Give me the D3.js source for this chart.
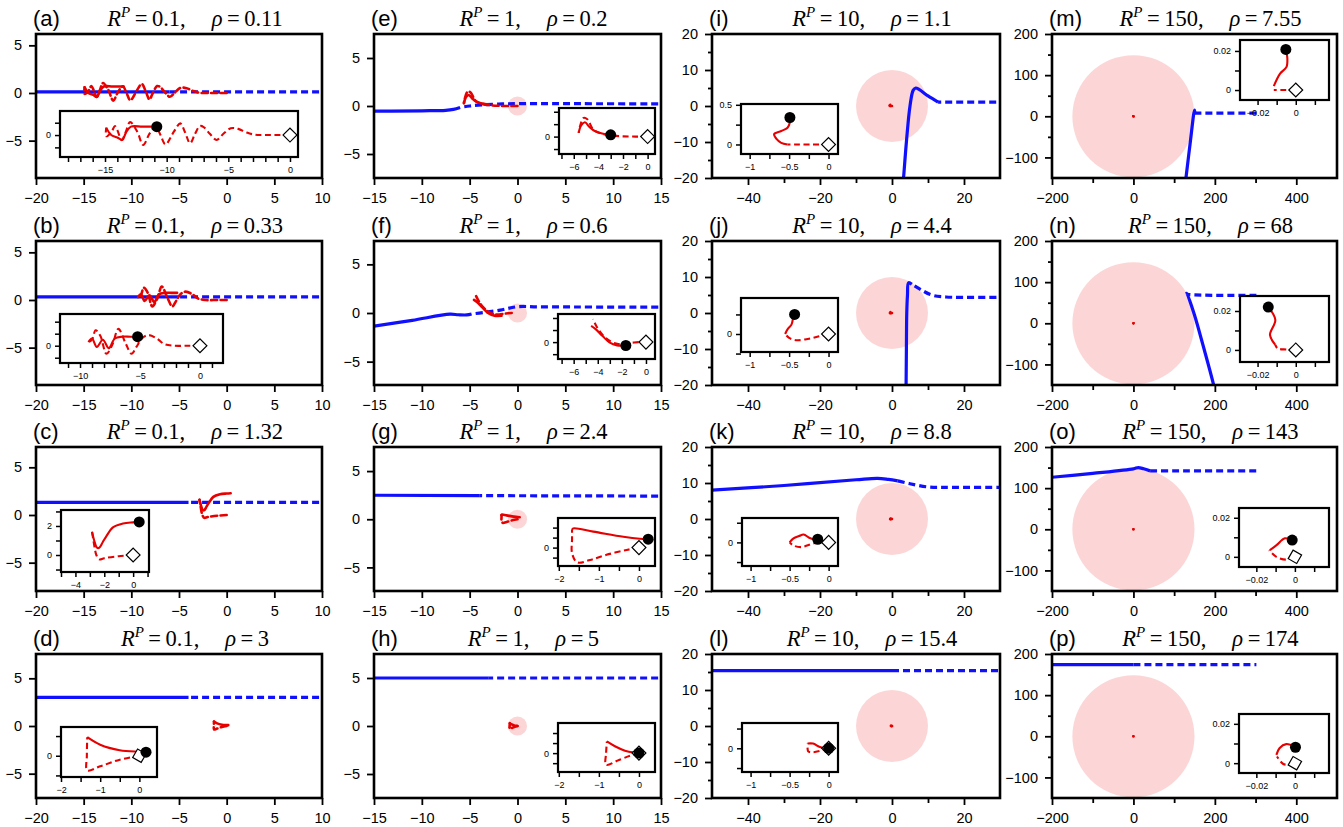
<!DOCTYPE html>
<html><head><meta charset="utf-8">
<script src="https://cdn.jsdelivr.net/npm/d3@7"></script>
<style>body{margin:0;background:#fff}svg{display:block}</style>
</head><body>
<svg id="chart" width="1343" height="827"></svg>
<script>
// ================= DATA =================
const panelLetters = ["a","b","c","d","e","f","g","h","i","j","k","l","m","n","o","p"];
const rpLabels  = ["0.1","0.1","0.1","0.1","1","1","1","1","10","10","10","10","150","150","150","150"];
const rhoLabels = ["0.11","0.33","1.32","3","0.2","0.6","2.4","5","1.1","4.4","8.8","15.4","7.55","68","143","174"];
const rpRadius  = [0.1,0.1,0.1,0.1,1,1,1,1,10,10,10,10,150,150,150,150];

// main axes
const colXDomains = [[-20,10],[-15,15],[-50,30],[-200,500]];
const panelYDomains = [[-8.92,6.19],[-8.92,6.19],[-7.97,7.13],[-7.55,7.55],
  [-7.5,7.5],[-7.4,7.4],[-7.45,7.5],[-7.5,7.5],
  [-20,20],[-20,20],[-20,20],[-20,20],
  [-150,200],[-150,200],[-150,200],[-150,200]];
const colXTicks = [[-20,-15,-10,-5,0,5,10],[-15,-10,-5,0,5,10,15],[-40,-20,0,20],[-200,0,200,400]];
const colXMinor = [[],[],[-30,-10,10],[-100,100,300]];
const colYTicks = [[-5,0,5],[-5,0,5],[-20,-10,0,10,20],[-100,0,100,200]];
const colYMinor = [[],[],[-15,-5,5,15],[-50,50,150]];

// inset axes
const insetXDomains = [[-18.65,0.65],[-11.67,1.92],[-5.0,1.1],[-2.0,0.45],
  [-7.2,0.6],[-7.3,0.75],[-2.02,0.4],[-2.02,0.4],
  [-1.11,0.12],[-1.11,0.12],[-1.11,0.12],[-1.11,0.12],
  [-0.0292,0.0174],[-0.0292,0.0174],[-0.029,0.0177],[-0.029,0.0177]];
const insetYDomains = [[-1.78,1.95],[-1.44,2.64],[-1.17,3.1],[-0.54,0.73],
  [-1.4,2.3],[-1.4,2.33],[-0.46,0.74],[-0.47,0.75],
  [-0.12,0.51],[-0.23,0.46],[-0.3,0.31],[-0.3,0.32],
  [-0.0051,0.0256],[-0.0062,0.0277],[-0.0052,0.025],[-0.005,0.025]];
const insetXTicks = [
  [-18,-17,-16,-15,-14,-13,-12,-11,-10,-9,-8,-7,-6,-5,-4,-3,-2,-1,0],
  [-11,-10,-9,-8,-7,-6,-5,-4,-3,-2,-1,0,1],
  [-5,-4,-3,-2,-1,0,1],
  [-2,-1.5,-1,-0.5,0],
  [-7,-6,-5,-4,-3,-2,-1,0],[-7,-6,-5,-4,-3,-2,-1,0],
  [-2,-1.5,-1,-0.5,0],[-2,-1.5,-1,-0.5,0],
  [-1,-0.75,-0.5,-0.25,0],[-1,-0.75,-0.5,-0.25,0],[-1,-0.75,-0.5,-0.25,0],[-1,-0.75,-0.5,-0.25,0],
  [-0.02,-0.01,0,0.01],[-0.02,-0.01,0,0.01],[-0.02,-0.01,0,0.01],[-0.02,-0.01,0,0.01]];
const insetXLabels = [[-15,-10,-5,0],[-10,-5,0],[-4,-2,0],[-2,-1,0],
  [-6,-4,-2,0],[-6,-4,-2,0],[-2,-1,0],[-2,-1,0],
  [-1,-0.5,0],[-1,-0.5,0],[-1,-0.5,0],[-1,-0.5,0],
  [-0.02,0],[-0.02,0],[-0.02,0],[-0.02,0]];
const insetYTicks = [[-1,0,1],[-1,0,1,2],[-1,0,1,2,3],[-0.5,0,0.5],
  [-1,0,1,2],[-1,0,1,2],[-0.25,0,0.25,0.5],[-0.25,0,0.25,0.5],
  [0,0.25,0.5],[-0.25,0,0.25],[-0.25,0,0.25],[-0.25,0,0.25],
  [0,0.01,0.02],[0,0.01,0.02],[0,0.01,0.02],[0,0.01,0.02]];
const insetYLabels = [[0],[0],[0,2],[0],[0],[0],[0],[0],
  [0,0.5],[0],[0],[0],[0,0.02],[0,0.02],[0,0.02],[0,0.02]];

// blue body trajectories (dashed = before, solid = after)
const blueDash_a = [[12,0.11],[-6,0.11]];
const blueSolid_a = [[-6,0.11],[-22,0.11]];
const blueDash_b = [[12,0.33],[-5,0.33]];
const blueSolid_b = [[-5,0.33],[-22,0.33]];
const blueDash_c = [[12,1.32],[-4,1.32]];
const blueSolid_c = [[-4,1.32],[-22,1.32]];
const blueDash_d = [[12,3],[-4,3]];
const blueSolid_d = [[-4,3],[-22,3]];
const blueDash_e = [[17,0.22],[5,0.24],[0,0.24],[-2,0.2],[-3.6,0.12],[-5,0.0],[-6,-0.15]];
const blueSolid_e = [[-6,-0.15],[-6.7,-0.35],[-7.5,-0.45],[-10,-0.5],[-17,-0.55]];
const blueDash_f = [[17,0.6],[2.3,0.63],[0,0.65],[-1.8,0.3],[-3.5,0.05],[-4.8,-0.1]];
const blueSolid_f = [[-4.8,-0.1],[-5.3,-0.2],[-6.2,-0.18],[-7.06,-0.12],[-11,-0.75],[-15,-1.35],[-17,-1.65]];
const blueDash_g = [[17,2.4],[-4,2.45]];
const blueSolid_g = [[-4,2.45],[-17,2.5]];
const blueDash_h = [[17,5],[-3,5]];
const blueSolid_h = [[-3,5],[-17,5]];
const blueDash_i = [[32,1.1],[12.8,1.1]];
const blueSolid_i = [[12.8,1.1],[10,2.8],[7.5,4.6],[6.6,5.0],[5.9,4.4],[5,0],[4,-10],[3.2,-20],[3,-22]];
const blueDash_j = [[32,4.4],[15,4.45],[11,5.0],[8,6.5],[5.5,8.0]];
const blueSolid_j = [[5.5,8.0],[4.6,8.4],[4.3,5],[4.1,0],[4.0,-10],[3.9,-22]];
const blueDash_k = [[1.6,10.6],[5,9.8],[10,8.9],[15,8.8],[32,8.8]];
const blueSolid_k = [[-52,7.9],[-30,9.3],[-10,10.9],[-4,11.3],[-1,11.0],[1.6,10.6]];
const blueDash_l = [[0,15.4],[32,15.4]];
const blueSolid_l = [[-52,15.4],[0,15.4]];
const blueDash_m = [[302,7.55],[151,7.55]];
const blueSolid_m = [[151,8],[150,15],[140,-60],[129,-150],[127,-165]];
const blueDash_n = [[302,68],[200,68],[150,69],[133,70]];
const blueSolid_n = [[133,70],[132,73],[150,20],[170,-50],[197,-150],[200,-165]];
const blueDash_o = [[41,142],[100,142],[304,142]];
const blueSolid_o = [[-205,126],[-100,136],[0,147],[12,150],[25,147],[41,142]];
const blueDash_p = [[0,174],[302,174]];
const blueSolid_p = [[-205,174],[0,174]];

// red particle trajectories (dashed = before, solid = after), end point
const redDash_a = [[0,0],[-1,0],[-2,0],[-2.8,0.02],[-3.5,0.2],[-4.2,0.5],[-4.8,0.55],[-5.4,0.1],[-5.95,-0.4],[-6.5,0.1],[-7.0,0.65],[-7.3,0.73],[-7.7,0.1],[-8.1,-0.67],[-8.5,0.2],[-8.9,0.95],[-9.4,0.3],[-10.1,-0.76],[-10.5,0.0],[-10.9,0.7],[-11.4,0.1],[-11.9,-0.8],[-12.4,0.3],[-12.97,1.05],[-13.3,0.3],[-13.65,-0.41],[-14.0,0.4],[-14.2,0.73],[-14.5,0.2],[-14.9,-0.1],[-14.9,0.6]];
const redSolid_a = [[-14.9,0.6],[-14.5,0.0],[-14.0,-0.2],[-13.6,-0.4],[-13.3,0.2],[-12.9,0.68],[-12,0.68],[-11.4,0.68],[-10.8,0.68]];
const redDash_b = [[0,0],[-1,0],[-2.2,0],[-3.0,0.15],[-3.6,0.6],[-4.3,0.88],[-4.8,0.65],[-5.3,-0.1],[-5.7,-0.67],[-6.2,0.2],[-6.8,1.4],[-7.3,0.1],[-7.8,-0.67],[-8.3,0.8],[-8.7,1.28],[-9.0,0.5],[-9.3,0.3]];
const redSolid_b = [[-9.3,0.3],[-9.0,0.6],[-8.6,-0.1],[-8.1,0.5],[-7.6,-0.2],[-7.1,0.6],[-6.5,0.75],[-5.8,0.75],[-5.2,0.75]];
const redDash_c = [[0,0],[-1,-0.08],[-2,-0.22],[-2.35,-0.3],[-2.55,0.0],[-2.65,0.4],[-2.75,1.0],[-2.85,1.6]];
const redSolid_c = [[-2.85,1.6],[-2.7,1.0],[-2.5,0.5],[-2.35,0.5],[-2.1,0.9],[-1.85,1.3],[-1.4,1.9],[-0.7,2.17],[0,2.25],[0.42,2.28]];
const redDash_d = [[0,0],[-0.5,-0.1],[-1.0,-0.27],[-1.33,-0.37],[-1.34,0.0],[-1.33,0.47]];
const redSolid_d = [[-1.33,0.47],[-1.0,0.28],[-0.5,0.14],[0,0.1],[0.17,0.09]];
const redDash_e = [[0,0],[-1,0],[-2,0.02],[-3,0.1],[-3.8,0.25],[-4.4,0.55],[-4.9,1.4],[-5.2,1.5],[-5.5,0.8],[-5.6,0.3]];
const redSolid_e = [[-5.6,0.3],[-5.4,0.9],[-5.1,1.15],[-4.7,0.75],[-4.3,0.45],[-3.7,0.25],[-3.0,0.14]];
const redDash_f = [[-0.6,0.0],[-1.2,-0.05],[-2.3,-0.15],[-3.0,0.1],[-3.6,0.6],[-4.1,1.3],[-4.4,1.9]];
const redSolid_f = [[-4.55,1.35],[-4.2,1.1],[-3.6,0.5],[-3.0,-0.05],[-2.4,-0.27],[-1.67,-0.28]];
const redDash_g = [[0,0],[-0.31,-0.06],[-0.81,-0.18],[-1.22,-0.31],[-1.54,-0.37],[-1.67,-0.14],[-1.67,0.2],[-1.67,0.44]];
const redSolid_g = [[-1.67,0.44],[-1.64,0.48],[-1.14,0.4],[-0.39,0.27],[0.02,0.22],[0.23,0.21]];
const redDash_h = [[0,0],[-0.2,-0.06],[-0.5,-0.17],[-0.82,-0.29],[-0.82,0.0],[-0.8,0.29]];
const redSolid_h = [[-0.8,0.29],[-0.6,0.17],[-0.35,0.06],[-0.1,0.01],[0,0]];
const redDash_i = [[0,0],[-0.2,0],[-0.4,0],[-0.52,0.0]];
const redSolid_i = [[-0.52,0.0],[-0.6,0.02],[-0.66,0.07],[-0.69,0.13],[-0.6,0.17],[-0.52,0.21],[-0.49,0.28],[-0.49,0.34]];
const redDash_j = [[0,0],[-0.12,-0.03],[-0.25,-0.06],[-0.4,-0.08],[-0.5,-0.05],[-0.55,0.0]];
const redSolid_j = [[-0.55,0.0],[-0.52,0.06],[-0.47,0.12],[-0.45,0.2],[-0.43,0.25]];
const redDash_k = [[0,0],[-0.1,0.01],[-0.25,-0.03],[-0.35,-0.06],[-0.45,-0.04],[-0.5,0.0]];
const redSolid_k = [[-0.5,0.0],[-0.45,0.05],[-0.38,0.08],[-0.32,0.1],[-0.25,0.06],[-0.19,0.04],[-0.14,0.04]];
const redDash_l = [[0,0],[-0.1,-0.03],[-0.2,-0.05],[-0.26,-0.04],[-0.27,0.0],[-0.27,0.06]];
const redSolid_l = [[-0.27,0.06],[-0.2,0.06],[-0.12,0.02],[-0.05,0.0],[0,0]];
const redDash_m = [[0,0],[-0.0066,0],[-0.0115,0.0]];
const redSolid_m = [[-0.0115,0.002],[-0.0083,0.0083],[-0.0049,0.0117],[-0.0044,0.016],[-0.0052,0.0208]];
const redDash_n = [[0,0],[-0.005,0.0002],[-0.0095,0.0008],[-0.0107,0.0026]];
const redSolid_n = [[-0.0107,0.0026],[-0.0135,0.0077],[-0.0107,0.0154],[-0.0144,0.022]];
const redDash_o = [[0,0],[-0.0045,-0.0014],[-0.0096,0.0],[-0.0134,0.0034]];
const redSolid_o = [[-0.013,0.0034],[-0.0095,0.006],[-0.0052,0.0095],[-0.0014,0.0086]];
const redDash_p = [[0,0],[-0.0036,-0.0008],[-0.0062,-0.0003],[-0.0093,0.0034]];
const redSolid_p = [[-0.0096,0.0042],[-0.008,0.0076],[-0.0045,0.0097],[0.0003,0.0081]];

const endDots = [[-10.8,0.68],[-5.2,0.75],[0.42,2.28],[0.17,0.09],[-3.0,0.14],[-1.67,-0.28],[0.23,0.21],[0,0],
  [-0.49,0.34],[-0.43,0.25],[-0.14,0.04],[0,0],[-0.0052,0.0208],[-0.0144,0.022],[-0.0014,0.0086],[0.0003,0.0081]];
const startAngles = [45,45,45,30,45,45,45,45,45,45,45,45,45,45,30,30];

const panelSeries = {
  a:[blueDash_a,blueSolid_a,redDash_a,redSolid_a], b:[blueDash_b,blueSolid_b,redDash_b,redSolid_b],
  c:[blueDash_c,blueSolid_c,redDash_c,redSolid_c], d:[blueDash_d,blueSolid_d,redDash_d,redSolid_d],
  e:[blueDash_e,blueSolid_e,redDash_e,redSolid_e], f:[blueDash_f,blueSolid_f,redDash_f,redSolid_f],
  g:[blueDash_g,blueSolid_g,redDash_g,redSolid_g], h:[blueDash_h,blueSolid_h,redDash_h,redSolid_h],
  i:[blueDash_i,blueSolid_i,redDash_i,redSolid_i], j:[blueDash_j,blueSolid_j,redDash_j,redSolid_j],
  k:[blueDash_k,blueSolid_k,redDash_k,redSolid_k], l:[blueDash_l,blueSolid_l,redDash_l,redSolid_l],
  m:[blueDash_m,blueSolid_m,redDash_m,redSolid_m], n:[blueDash_n,blueSolid_n,redDash_n,redSolid_n],
  o:[blueDash_o,blueSolid_o,redDash_o,redSolid_o], p:[blueDash_p,blueSolid_p,redDash_p,redSolid_p]
};

// ================= LAYOUT =================
const colX = [[36,322],[374,661],[712,1000],[1052,1337]];
const rowY = [[34,178],[241,385],[447,591],[654,798]];
const insetBoxes = [[60,111,298,157],[60,314,223,363],[61,510,149,572],[61,727,157,777],
  [559,108,655,154],[558,314,655,359],[558,518,655,566],[558,723,655,772],
  [741,104,838,154],[741,298,838,352],[742,518,838,566],[742,723,838,772],
  [1240,40,1329,100],[1240,296,1329,362],[1239,508,1329,567],[1239,714,1329,773]];

const BLUE = "#1010ff", RED = "#e60000", PINK = "#fcd6d6";
const SANS = "Liberation Sans, Arial, sans-serif", SERIF = "Liberation Serif, Times New Roman, serif";
const fmt = d3.format("~g");

const svg = d3.select("#chart");
const defs = svg.append("defs");

function styleAxis(g, fs) {
  g.select(".domain").remove();
  g.selectAll(".tick line").attr("stroke", "#000").attr("stroke-width", 1.8);
  g.selectAll(".tick text").attr("font-family", SANS).attr("font-size", fs).attr("fill", "#000");
}

panelLetters.forEach((L, i) => {
  const col = Math.floor(i / 4), row = i % 4;
  const [x0, x1] = colX[col], [y0, y1] = rowY[row];
  const xs = d3.scaleLinear().domain(colXDomains[col]).range([x0, x1]);
  const ys = d3.scaleLinear().domain(panelYDomains[i]).range([y1, y0]);
  const [bDash, bSolid, rDash, rSolid] = panelSeries[L];
  const g = svg.append("g");

  defs.append("clipPath").attr("id", "clip" + L).append("rect")
    .attr("x", x0).attr("y", y0).attr("width", x1 - x0).attr("height", y1 - y0);
  const plot = g.append("g").attr("clip-path", `url(#clip${L})`);

  plot.append("circle").attr("cx", xs(0)).attr("cy", ys(0))
    .attr("r", Math.abs(xs(rpRadius[i]) - xs(0))).attr("fill", PINK);

  const line = d3.line().x(d => xs(d[0])).y(d => ys(d[1])).curve(d3.curveCatmullRom.alpha(0.5));
  plot.append("path").attr("d", line(bSolid)).attr("fill", "none").attr("stroke", BLUE).attr("stroke-width", 3.2);
  plot.append("path").attr("d", line(bDash)).attr("fill", "none").attr("stroke", BLUE).attr("stroke-width", 3.2)
    .attr("stroke-dasharray", "7,4");
  plot.append("path").attr("d", line(rDash)).attr("fill", "none").attr("stroke", RED).attr("stroke-width", 2.6)
    .attr("stroke-dasharray", "6,3.5").attr("stroke-linecap", "round");
  plot.append("path").attr("d", line(rSolid)).attr("fill", "none").attr("stroke", RED).attr("stroke-width", 2.6)
    .attr("stroke-linecap", "round");

  // axes
  const ax = g.append("g").attr("transform", `translate(0,${y1})`)
    .call(d3.axisBottom(xs).tickValues(colXTicks[col]).tickFormat(fmt).tickSize(7).tickSizeOuter(0).tickPadding(8));
  styleAxis(ax, 14.5);
  if (colXMinor[col].length) {
    const axm = g.append("g").attr("transform", `translate(0,${y1})`)
      .call(d3.axisBottom(xs).tickValues(colXMinor[col]).tickFormat("").tickSize(5).tickSizeOuter(0));
    styleAxis(axm, 14.5);
  }
  const ay = g.append("g").attr("transform", `translate(${x0},0)`)
    .call(d3.axisLeft(ys).tickValues(colYTicks[col]).tickFormat(fmt).tickSize(7).tickSizeOuter(0).tickPadding(7));
  styleAxis(ay, 14.5);
  if (colYMinor[col].length) {
    const aym = g.append("g").attr("transform", `translate(${x0},0)`)
      .call(d3.axisLeft(ys).tickValues(colYMinor[col]).tickFormat("").tickSize(4).tickSizeOuter(0));
    styleAxis(aym, 14.5);
  }
  g.append("rect").attr("x", x0).attr("y", y0).attr("width", x1 - x0).attr("height", y1 - y0)
    .attr("fill", "none").attr("stroke", "#000").attr("stroke-width", 2.6);

  // titles
  g.append("text").attr("x", x0 - 3).attr("y", y0 - 8).attr("font-family", SANS).attr("font-size", 22)
    .text(`(${L})`);
  const t = g.append("text").attr("x", (x0 + x1) / 2 + 16).attr("y", y0 - 8).attr("text-anchor", "middle")
    .attr("font-family", SERIF).attr("font-size", 22.5);
  t.append("tspan").attr("font-style", "italic").text("R");
  t.append("tspan").attr("font-style", "italic").attr("font-size", 15).attr("dy", -9).text("P");
  t.append("tspan").attr("dy", 9).text(`\u2009=\u2009${rpLabels[i]},`);
  t.append("tspan").attr("dx", 26).attr("font-style", "italic").text("ρ");
  t.append("tspan").text(`\u2009=\u2009${rhoLabels[i]}`);

  // inset
  const [ix0, iy0, ix1, iy1] = insetBoxes[i];
  const ixs = d3.scaleLinear().domain(insetXDomains[i]).range([ix0, ix1]);
  const iys = d3.scaleLinear().domain(insetYDomains[i]).range([iy1, iy0]);
  const ig = g.append("g");
  ig.append("rect").attr("x", ix0).attr("y", iy0).attr("width", ix1 - ix0).attr("height", iy1 - iy0).attr("fill", "#fff");
  defs.append("clipPath").attr("id", "iclip" + L).append("rect")
    .attr("x", ix0).attr("y", iy0).attr("width", ix1 - ix0).attr("height", iy1 - iy0);
  const ip = ig.append("g").attr("clip-path", `url(#iclip${L})`);
  const iline = d3.line().x(d => ixs(d[0])).y(d => iys(d[1])).curve(d3.curveCatmullRom.alpha(0.5));
  ip.append("path").attr("d", iline(rDash)).attr("fill", "none").attr("stroke", RED).attr("stroke-width", 2.1)
    .attr("stroke-dasharray", "6,3.5");
  ip.append("path").attr("d", iline(rSolid)).attr("fill", "none").attr("stroke", RED).attr("stroke-width", 2.1);
  ip.append("path").attr("d", d3.symbol(d3.symbolSquare, 96)())
    .attr("transform", `translate(${ixs(0)},${iys(0)}) rotate(${startAngles[i]})`)
    .attr("fill", "#fff").attr("stroke", "#000").attr("stroke-width", 1.2);
  ip.append("circle").attr("cx", ixs(endDots[i][0])).attr("cy", iys(endDots[i][1])).attr("r", 5.5).attr("fill", "#000");

  const iax = ig.append("g").attr("transform", `translate(0,${iy1})`)
    .call(d3.axisBottom(ixs).tickValues(insetXTicks[i]).tickFormat(d => insetXLabels[i].some(v => Math.abs(v - d) < 1e-9) ? fmt(d) : "")
      .tickSize(5).tickSizeOuter(0).tickPadding(5));
  styleAxis(iax, 9);
  iax.selectAll(".tick line").attr("stroke-width", 1.5);
  const iay = ig.append("g").attr("transform", `translate(${ix0},0)`)
    .call(d3.axisLeft(iys).tickValues(insetYTicks[i]).tickFormat(d => insetYLabels[i].some(v => Math.abs(v - d) < 1e-9) ? fmt(d) : "")
      .tickSize(5).tickSizeOuter(0).tickPadding(4));
  styleAxis(iay, 9);
  iay.selectAll(".tick line").attr("stroke-width", 1.5);
  ig.append("rect").attr("x", ix0).attr("y", iy0).attr("width", ix1 - ix0).attr("height", iy1 - iy0)
    .attr("fill", "none").attr("stroke", "#000").attr("stroke-width", 2.2);
});
</script>
</body></html>
